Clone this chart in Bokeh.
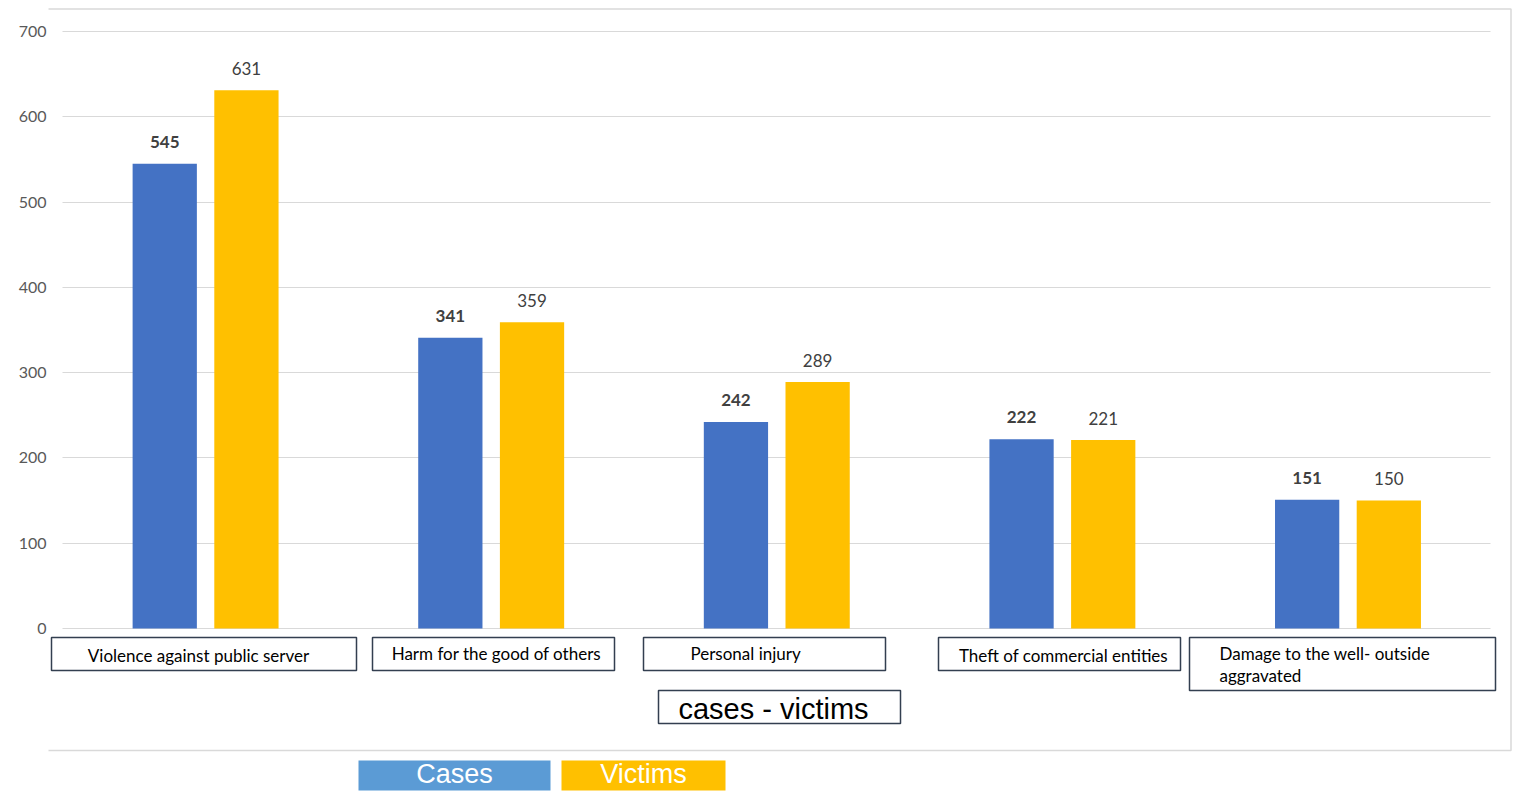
from bokeh.plotting import figure
from bokeh.models import (ColumnDataSource, Range1d, FixedTicker, LabelSet)
from bokeh.transform import dodge
from bokeh.core.properties import value
from bokeh.embed import file_html
from bokeh.resources import INLINE

# ---------------- data ----------------
categories = [
    "Violence against public server",
    "Harm for the good of others",
    "Personal injury",
    "Theft of commercial entities",
    "Damage to the well- outside\naggravated",
]
cases = [545, 341, 242, 222, 151]
victims = [631, 359, 289, 221, 150]
y_ticks = [0, 100, 200, 300, 400, 500, 600, 700]
series_names = ["Cases", "Victims"]
axis_title = "cases - victims"

# ---------------- styles / layout ----------------
BLUE = "#4472C4"
GOLD = "#FFC000"
LEGEND_BLUE = "#5B9BD5"
GRID = "#D9D9D9"
BOX_LINE = "#333F50"
FONT = "Lato"
FONT2 = "Liberation Sans"

W, H = 1515, 791
FRAME_LEFT = 48
# plot area of the bars in page pixels
FL, FR, FT, FB = 62, 1490, 31, 628
YMAX = 700
N = len(categories)

def dx(X):
    return (X - FL) / (FR - FL) * N

def dy(Y):
    return (FB - Y) / (FB - FT) * YMAX

xc = [i + 0.5 for i in range(N)]
src = ColumnDataSource(dict(xc=xc, cases=cases, victims=victims,
                            cases_txt=[str(v) for v in cases],
                            victims_txt=[str(v) for v in victims]))

p = figure(width=W, height=H, output_backend="svg", toolbar_location=None,
           x_range=Range1d(dx(FRAME_LEFT), dx(W)), y_range=Range1d(dy(H), dy(0)),
           x_axis_location=None,
           min_border_left=FRAME_LEFT, min_border_right=0,
           min_border_top=0, min_border_bottom=0)
p.outline_line_color = None
p.background_fill_color = "white"
p.border_fill_color = "white"

p.yaxis.ticker = FixedTicker(ticks=y_ticks)
p.yaxis.axis_line_color = None
p.yaxis.major_tick_line_color = None
p.yaxis.minor_tick_line_color = None
p.yaxis.major_tick_out = 0
p.yaxis.major_tick_in = 0
p.yaxis.major_label_standoff = 2
p.yaxis.major_label_text_font = FONT
p.yaxis.major_label_text_font_size = "16px"
p.yaxis.major_label_text_color = "#595959"
p.xgrid.grid_line_color = None
p.ygrid.grid_line_color = GRID
p.ygrid.grid_line_width = 1
p.ygrid.ticker = FixedTicker(ticks=y_ticks)
p.ygrid.cross_bounds = (0, N)

# outer chart border (light grey)
p.quad(left=[dx(4.5)], right=[dx(1510.5)], top=[dy(8.5)], bottom=[dy(750)],
       fill_color=None, line_color=GRID, line_width=1.5, level="underlay")

BW = 0.225
OFS = 0.142
p.vbar(x=dodge("xc", -OFS, range=p.x_range), top="cases", width=BW,
       source=src, fill_color=BLUE, line_color=None)
p.vbar(x=dodge("xc", OFS + 0.002, range=p.x_range), top="victims", width=BW,
       source=src, fill_color=GOLD, line_color=None)

p.add_layout(LabelSet(x=dodge("xc", -OFS, range=p.x_range), y="cases", text="cases_txt",
                      source=src, y_offset=22, text_align="center", text_baseline="middle",
                      text_font=value(FONT), text_font_size=value("17px"),
                      text_font_style="bold", text_color="#404040"))
p.add_layout(LabelSet(x=dodge("xc", OFS + 0.002, range=p.x_range), y="victims", text="victims_txt",
                      source=src, y_offset=22, text_align="center", text_baseline="middle",
                      text_font=value(FONT), text_font_size=value("17px"),
                      text_color="#404040"))

# category boxes (page pixels)
cat_boxes = [(51, 356, 637, 670), (372, 614, 637, 670), (643, 885, 637, 670),
             (938, 1180, 637, 670), (1189, 1495, 637, 690)]
cat_text = [(198, 655, "center", "middle"), (496, 653, "center", "middle"),
            (690, 653, "left", "middle"), (1063, 655, "center", "middle"),
            (1219, 642, "left", "top")]
box_src = ColumnDataSource(dict(
    l=[dx(b[0]) for b in cat_boxes], r=[dx(b[1]) for b in cat_boxes],
    t=[dy(b[2]) for b in cat_boxes], b=[dy(b[3]) for b in cat_boxes]))
p.quad(left="l", right="r", top="t", bottom="b", source=box_src,
       fill_color="white", line_color=BOX_LINE, line_width=1.5)
txt_src = ColumnDataSource(dict(
    x=[dx(t[0]) for t in cat_text], y=[dy(t[1]) for t in cat_text],
    align=[t[2] for t in cat_text], base=[t[3] for t in cat_text], text=categories))
p.text(x="x", y="y", text="text", source=txt_src, text_align="align", text_baseline="base",
       text_font=value(FONT), text_font_size="17px", text_color="#000000",
       text_line_height=1.05)

# axis title box
p.quad(left=[dx(658)], right=[dx(900)], top=[dy(690)], bottom=[dy(723)],
       fill_color="white", line_color=BOX_LINE, line_width=1.5)
p.text(x=[dx(773)], y=[dy(708)], text=[axis_title], text_align="center",
       text_baseline="middle", text_font=value(FONT2), text_font_size="29px",
       text_color="black")

# legend
leg = [(358, 550, LEGEND_BLUE), (561, 725, GOLD)]
p.quad(left=[dx(l) for l, r, c in leg], right=[dx(r) for l, r, c in leg],
       top=[dy(760)] * 2, bottom=[dy(790)] * 2,
       fill_color=[c for l, r, c in leg], line_color=None)
p.text(x=[dx((l + r) / 2) for l, r, c in leg], y=[dy(773)] * 2, text=series_names,
       text_align="center", text_baseline="middle", text_font=value(FONT2),
       text_font_size="27px", text_color="white")

open("out.html", "w").write(file_html(p, INLINE))
